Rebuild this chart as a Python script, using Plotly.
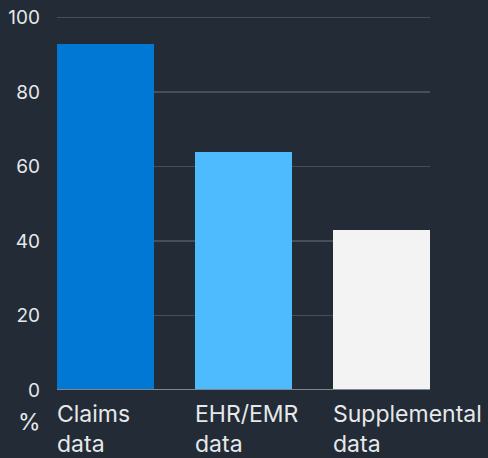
import plotly.graph_objects as go

categories = ["Claims<br>data", "EHR/EMR<br>data", "Supplemental<br>data"]
values = [93, 64, 43]
colors = ["#0078d4", "#4fbbff", "#f3f3f3"]
y_ticks = [0, 20, 40, 60, 80, 100]
unit_label = "%"

BG = "#222b36"
W, H = 488, 458
ML, MR, MT, MB = 57, 58, 16, 68
bar_w = 0.703
half = bar_w / 2

xs = list(range(len(categories)))
fig = go.Figure(go.Bar(x=xs, y=values, marker=dict(color=colors, line=dict(width=0)),
                       width=bar_w, hoverinfo="skip"))

FAM = "Inter, Roboto, sans-serif"
tick_font = dict(family=FAM, color="#e6e8ea", size=19)
lab_font = dict(family=FAM, color="#e6e8ea", size=23)

annotations = []
for i, c in enumerate(categories):
    annotations.append(dict(x=i - half, y=0, xref="x", yref="paper", text=c,
                            xanchor="left", yanchor="top", align="left", showarrow=False,
                            yshift=-8, xshift=-2, font=lab_font))
annotations.append(dict(x=(30 - ML) / (W - ML - MR), y=0, xref="paper", yref="paper",
                        text=unit_label, xanchor="center", yanchor="top", showarrow=False,
                        yshift=-16, font=lab_font))

fig.update_layout(
    width=W, height=H, margin=dict(l=ML, r=MR, t=MT, b=MB, autoexpand=False),
    paper_bgcolor=BG, plot_bgcolor=BG, showlegend=False, bargap=0,
    font=tick_font, annotations=annotations,
    xaxis=dict(range=[-half, len(categories) - 1 + half], showticklabels=False,
               showgrid=False, zeroline=False, showline=False, fixedrange=True,
               automargin=False),
    yaxis=dict(range=[0, 100.4], tickvals=y_ticks, showgrid=True, gridcolor="#454e59",
               gridwidth=1.5, zeroline=False, showline=False, ticks="", ticklabelstandoff=16,
               tickfont=tick_font, fixedrange=True, automargin=False),
    shapes=[dict(type="line", xref="paper", yref="y", x0=0, x1=1, y0=0, y1=0,
                 line=dict(color="#80868e", width=2), layer="above")],
)

fig.write_html("out.html", config=dict(displayModeBar=False, staticPlot=True), post_script=(
    "document.body.style.margin='0';document.body.style.padding='0';"
    "document.body.style.background='%s';document.body.style.overflow='hidden';" % BG))
